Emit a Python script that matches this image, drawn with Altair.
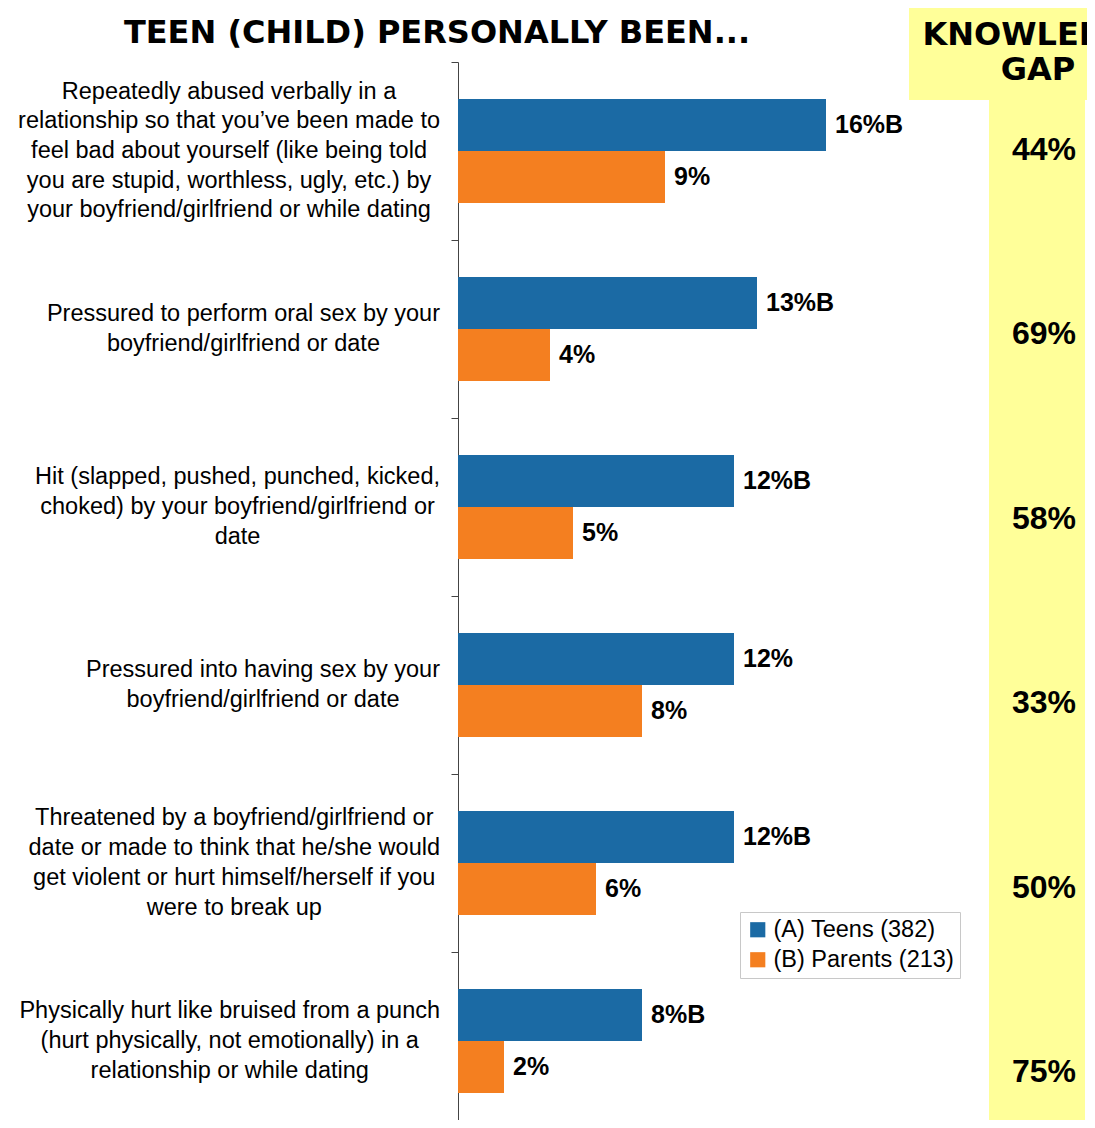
import altair as alt
import pandas as pd

# ---------------- data ----------------
title_text = "TEEN (CHILD) PERSONALLY BEEN..."
gap_title = "KNOWLEDGE\nGAP"
cat_keys = ["c1", "c2", "c3", "c4", "c5", "c6"]
cat_lines = [
    ["Repeatedly abused verbally in a", "relationship so that you\u2019ve been made to",
     "feel bad about yourself (like being told", "you are stupid, worthless, ugly, etc.) by",
     "your boyfriend/girlfriend or while dating"],
    ["Pressured to perform oral sex by your", "boyfriend/girlfriend or date"],
    ["Hit (slapped, pushed, punched, kicked,", "choked) by your boyfriend/girlfriend or", "date"],
    ["Pressured into having sex by your", "boyfriend/girlfriend or date"],
    ["Threatened by a boyfriend/girlfriend or", "date or made to think that he/she would",
     "get violent or hurt himself/herself if you", "were to break up"],
    ["Physically hurt like bruised from a punch", "(hurt physically, not emotionally) in a",
     "relationship or while dating"],
]
series = ["(A) Teens (382)", "(B) Parents (213)"]
teens = [16, 13, 12, 12, 12, 8]
parents = [9, 4, 5, 8, 6, 2]
teen_labels = ["16%B", "13%B", "12%B", "12%", "12%B", "8%B"]
parent_labels = ["9%", "4%", "5%", "8%", "6%", "2%"]
gaps = ["44%", "69%", "58%", "33%", "50%", "75%"]
colors = ["#1b6aa4", "#f47f20"]
yellow = "#ffff99"

# ---------------- layout ----------------
W, H = 629, 1058
BAND_RANGE = 1068          # six category bands of ~178 px; the last runs past the page edge
PX_PER_PCT = 23.0
XMAX = W / PX_PER_PCT
FONT = "Liberation Sans"
LABEL_SIZE = 23.5
LINE_H = 29.7

# Arial/Helvetica advance widths (1/1000 em) to center each label block
AW = {' ': 278, '(': 333, ')': 333, ',': 278, '.': 278, '/': 278, '\u2019': 222, "'": 191,
      'a': 556, 'b': 556, 'c': 500, 'd': 556, 'e': 556, 'f': 278, 'g': 556, 'h': 556, 'i': 222,
      'j': 222, 'k': 500, 'l': 222, 'm': 833, 'n': 556, 'o': 556, 'p': 556, 'q': 556, 'r': 333,
      's': 500, 't': 278, 'u': 556, 'v': 500, 'w': 722, 'x': 500, 'y': 500, 'z': 500,
      'H': 722, 'P': 667, 'R': 667, 'T': 611}


def text_w(s, size):
    return sum(AW.get(ch, 556) for ch in s) * size / 1000.0


rows = []
for k, t, p, tl, pl in zip(cat_keys, teens, parents, teen_labels, parent_labels):
    rows.append({"cat": k, "series": series[0], "value": t, "label": tl})
    rows.append({"cat": k, "series": series[1], "value": p, "label": pl})
df = pd.DataFrame(rows)

y_enc = alt.Y("cat:N", sort=cat_keys,
              scale=alt.Scale(paddingInner=0, paddingOuter=0, range=[0, BAND_RANGE]),
              axis=alt.Axis(labels=False, title=None, grid=False, tickBand="extent",
                            tickSize=7, domainColor="#444", tickColor="#444",
                            domainWidth=1, tickWidth=1))
yoff_enc = alt.YOffset("series:N", sort=series,
                       scale=alt.Scale(paddingInner=0, paddingOuter=0.71))
x_enc = alt.X("value:Q", scale=alt.Scale(domain=[0, XMAX], nice=False, zero=True), axis=None)

bars = alt.Chart(df).mark_bar().encode(
    y=y_enc, yOffset=yoff_enc, x=x_enc,
    color=alt.Color("series:N", sort=series,
                    scale=alt.Scale(domain=series, range=colors),
                    legend=alt.Legend(title=None, orient="none", legendX=282, legendY=850,
                                      symbolType="square", symbolSize=230,
                                      symbolStrokeWidth=0, labelLimit=0,
                                      labelFont=FONT, labelFontSize=LABEL_SIZE,
                                      labelColor="black", rowPadding=5,
                                      strokeColor="#c8c8c8", fillColor="white",
                                      padding=6)),
)

bar_text = alt.Chart(df).mark_text(align="left", baseline="middle", dx=9,
                                   fontSize=25, fontWeight="bold", font=FONT,
                                   color="black").encode(
    y=y_enc, yOffset=yoff_enc, x=x_enc, text="label:N")

cat_layers = []
for k, lines in zip(cat_keys, cat_lines):
    maxw = max(text_w(s, LABEL_SIZE) for s in lines)
    cx = -18 - maxw / 2.0
    cdf = pd.DataFrame({"cat": [k], "txt": ["\n".join(lines)]})
    cat_layers.append(
        alt.Chart(cdf).mark_text(align="center", baseline="middle", lineBreak="\n",
                                 lineHeight=LINE_H, fontSize=LABEL_SIZE, font=FONT,
                                 dy=-(len(lines) - 1) * LINE_H / 2.0,
                                 color="black").encode(
            y=y_enc, x=alt.value(cx), text="txt:N")
    )

inner = alt.layer(bars, bar_text, *cat_layers)

one = pd.DataFrame({"a": [0]})
header_box = alt.Chart(one).mark_rect(color=yellow).encode(
    x=alt.value(451), x2=alt.value(660), y=alt.value(-60), y2=alt.value(38))
column_box = alt.Chart(one).mark_rect(color=yellow).encode(
    x=alt.value(531), x2=alt.value(627), y=alt.value(37), y2=alt.value(H + 20))

header_text = alt.Chart(pd.DataFrame({"t": [gap_title]})).mark_text(
    align="center", baseline="middle", lineBreak="\n", lineHeight=35,
    font="DejaVu Sans", fontWeight="bold", fontSize=32, color="black").encode(
    x=alt.value(580), y=alt.value(-27), text="t:N")

title = alt.Chart(pd.DataFrame({"t": [title_text]})).mark_text(
    align="center", baseline="middle", font="DejaVu Sans", fontWeight="bold",
    fontSize=32, color="black").encode(
    x=alt.value(-21), y=alt.value(-29), text="t:N")

gap_df = pd.DataFrame({"gcat": cat_keys, "gap": gaps})
gap_layer = alt.Chart(gap_df).mark_text(align="center", baseline="middle",
                                        fontSize=32, fontWeight="bold", font=FONT,
                                        color="black").encode(
    y=alt.Y("gcat:N", sort=cat_keys,
            scale=alt.Scale(type="point", range=[88, 1010], padding=0),
            axis=None),
    x=alt.value(586), text="gap:N")

chart = alt.layer(header_box, column_box, header_text, title, inner, gap_layer).resolve_scale(
    y="independent"
).properties(
    width=W, height=H,
    padding={"left": 450, "top": 54, "right": 0, "bottom": 0},
    autosize=alt.AutoSizeParams(type="none"),
    background="white",
).configure(font=FONT).configure_view(stroke=None)

chart.save("out.html", embed_options={"renderer": "svg", "actions": False})
